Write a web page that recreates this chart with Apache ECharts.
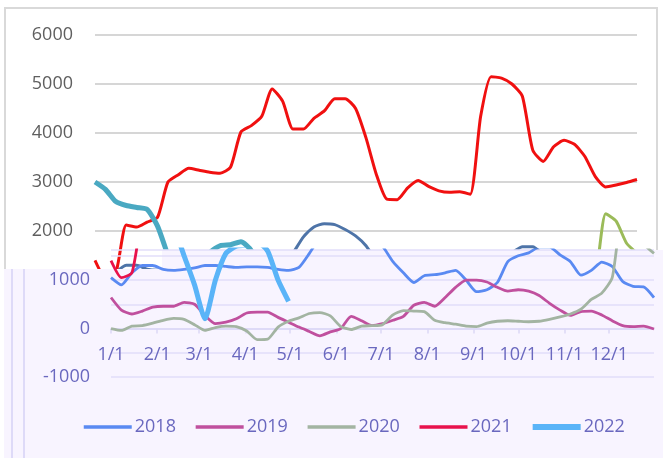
<!DOCTYPE html>
<html>
<head>
<meta charset="utf-8">
<script src="https://cdn.jsdelivr.net/npm/echarts@6/dist/echarts.min.js"></script>
<style>
  html, body { margin: 0; padding: 0; background: #fff; }
  #chart { width: 663px; height: 458px; }
</style>
</head>
<body>
<div id="chart"></div>
<script>
// day of year for each sample (weekly)
const days = [0, 7, 14, 21, 28, 35, 42, 49, 56, 63, 70, 77, 84, 91, 98, 105, 112, 119, 126, 133,
  140, 147, 154, 161, 168, 175, 182, 189, 196, 203, 210, 217, 224, 231, 238, 245, 252, 259, 266,
  273, 280, 287, 294, 301, 308, 315, 322, 329, 336, 343, 350, 357, 364];

const years = ['2018', '2019', '2020', '2021', '2022'];

const v2018 = [1050, 900, 1150, 1300, 1300, 1220, 1200, 1220, 1250, 1300, 1300, 1280, 1260, 1270,
  1270, 1260, 1220, 1200, 1260, 1550, 1880, 2080, 2150, 2130, 2030, 1900, 1700, 1380, 1150, 950,
  1090, 1110, 1150, 1200, 1000, 760, 800, 950, 1380, 1500, 1560, 1680, 1680, 1520, 1380, 1100,
  1200, 1370, 1280, 970, 870, 860, 640];
const v2019 = [640, 380, 300, 360, 440, 460, 460, 540, 500, 270, 100, 130, 200, 320, 340, 340,
  230, 130, 30, -60, -150, -70, 0, 250, 160, 60, 100, 170, 250, 480, 540, 460, 640, 850, 1000,
  1000, 960, 850, 770, 800, 770, 680, 520, 380, 270, 350, 360, 280, 160, 60, 40, 50, -10];
const v2020 = [0, -40, 50, 60, 110, 170, 210, 190, 80, -40, 20, 50, 40, -50, -230, -220, 30, 150,
  220, 310, 330, 260, 40, -20, 50, 60, 80, 280, 370, 360, 350, 170, 120, 90, 50, 40, 110, 150,
  160, 150, 140, 150, 190, 240, 300, 400, 600, 730, 1050, 2350, 2200, 1750, 1550];
const v2021 = [1400, 1050, 1150, 2120, 2080, 2180, 2280, 3000, 3150, 3280, 3240, 3200, 3180, 3300,
  4020, 4150, 4340, 4900, 4650, 4080, 4080, 4300, 4450, 4700, 4700, 4500, 3900, 3150, 2650, 2640,
  2880, 3030, 2910, 2820, 2790, 2800, 2750, 4340, 5150, 5120, 5000, 4750, 3650, 3420, 3720, 3850,
  3770, 3520, 3110, 2900, 2940, 2990, 3050];
const v2022 = [3000, 2850, 2600, 2520, 2480, 2440, 2100, 1500, 900, 200, 1000, 1550, 1700, 1720,
  1780, 1600, 1000, 560];

const monthStarts = [0, 31, 59, 90, 120, 151, 181, 212, 243, 273, 304, 334];
const monthLabels = ['1/1', '2/1', '3/1', '4/1', '5/1', '6/1', '7/1', '8/1', '9/1', '10/1', '11/1', '12/1'];
const topTicks = [-1000, 0, 1000, 2000, 3000, 4000, 5000, 6000];
const lowTicks = [-1000, 0, 1000];

const values = [v2018, v2019, v2020, v2021, v2022];
const lowColors = ['#5a8af2', '#c0509e', '#a3b4a2', '#e8124c', '#5ab4f8'];
const topColors = ['#4e74a8', '#c0509e', '#9bbb59', '#f01010', '#4aa9c2'];
const widths = [2.8, 2.8, 2.8, 2.8, 5];

const font = '"Open Sans", "Noto Sans", sans-serif';
const purple = '#6a68bf';

function pairs(arr) {
  return arr.map((v, i) => [days[i], v]);
}

const chart = echarts.init(document.getElementById('chart'));

const lowSeries = years.map((y, i) => ({
  name: y,
  type: 'line',
  xAxisIndex: 1,
  yAxisIndex: 1,
  data: pairs(values[i]),
  symbol: 'none',
  smooth: 0.2,
  z: 12,
  color: lowColors[i],
  lineStyle: { width: widths[i], color: lowColors[i] }
}));

const topSeries = years.map((y, i) => ({
  name: y,
  type: 'line',
  xAxisIndex: 0,
  yAxisIndex: 0,
  data: pairs(values[i]),
  symbol: 'none',
  smooth: 0.2,
  z: 2,
  color: topColors[i],
  lineStyle: { width: i === 4 ? 5 : 3, color: topColors[i] }
}));

chart.setOption({
  backgroundColor: '#fff',
  animation: false,
  textStyle: { fontFamily: font },
  graphic: {
    elements: [
      {
        type: 'rect', z: 0, silent: true,
        shape: { x: 5, y: 8, width: 652, height: 300 },
        style: { fill: '#fff', stroke: '#d9d9d9', lineWidth: 2 }
      },
      {
        type: 'rect', z: 10, silent: true,
        shape: { x: 4, y: 269, width: 659, height: 189 },
        style: { fill: '#f8f4ff' }
      },
      {
        type: 'rect', z: 10, silent: true,
        shape: { x: 162, y: 250, width: 501, height: 20 },
        style: { fill: '#f8f4ff' }
      },
      {
        type: 'line', z: 10, silent: true,
        shape: { x1: 12, y1: 269, x2: 12, y2: 458 },
        style: { stroke: '#dedaf8', lineWidth: 2 }
      },
      {
        type: 'line', z: 10, silent: true,
        shape: { x1: 24, y1: 269, x2: 24, y2: 458 },
        style: { stroke: '#dedaf8', lineWidth: 2 }
      }
    ]
  },
  grid: [
    { left: 95, right: 26, top: 35, bottom: 80 },
    { left: 111, right: 9, top: 250, bottom: 81 }
  ],
  xAxis: [
    {
      type: 'value', gridIndex: 0, min: 0, max: 364, z: 1,
      axisLine: { show: false }, axisTick: { show: false },
      axisLabel: { show: false }, splitLine: { show: false }
    },
    {
      type: 'value', gridIndex: 1, min: 0, max: 364, z: 11,
      position: 'bottom',
      offset: -48.5,
      axisLine: { show: true, onZero: false, lineStyle: { color: '#dcd8f6', width: 1.5 } },
      axisTick: { show: true, customValues: monthStarts, length: 5, lineStyle: { color: '#dcd8f6', width: 1.5 } },
      axisLabel: {
        customValues: monthStarts,
        formatter: v => monthLabels[monthStarts.indexOf(v)] || '',
        color: purple, fontSize: 18, margin: 17, fontFamily: font
      },
      splitLine: { show: false }
    }
  ],
  yAxis: [
    {
      type: 'value', gridIndex: 0, min: -1000, max: 6000, z: 1,
      axisLine: { show: false }, axisTick: { show: false },
      axisLabel: { customValues: topTicks, formatter: v => String(v), color: '#5f5f5f', fontSize: 18, margin: 22, fontFamily: font },
      splitLine: { lineStyle: { color: '#d6d6d6', width: 2 } }
    },
    {
      type: 'value', gridIndex: 1, min: -1000, max: 1620, z: 11,
      axisLine: { show: false }, axisTick: { show: false },
      axisLabel: { customValues: lowTicks, formatter: v => String(v), color: purple, fontSize: 18, margin: 21, fontFamily: font },
      splitLine: { lineStyle: { color: '#e2defa', width: 1.5 } }
    }
  ],
  legend: {
    data: years.map((y, i) => ({ name: y, lineStyle: { width: i === 4 ? 6 : 3.5 } })),
    left: 77,
    top: 413,
    z: 13,
    itemWidth: 48,
    itemHeight: 14,
    itemGap: 18,
    itemStyle: { opacity: 0 },
    textStyle: { color: purple, fontSize: 18, fontFamily: font, padding: [0, 0, 0, -2] }
  },
  series: lowSeries.concat(topSeries)
});
</script>
</body>
</html>
